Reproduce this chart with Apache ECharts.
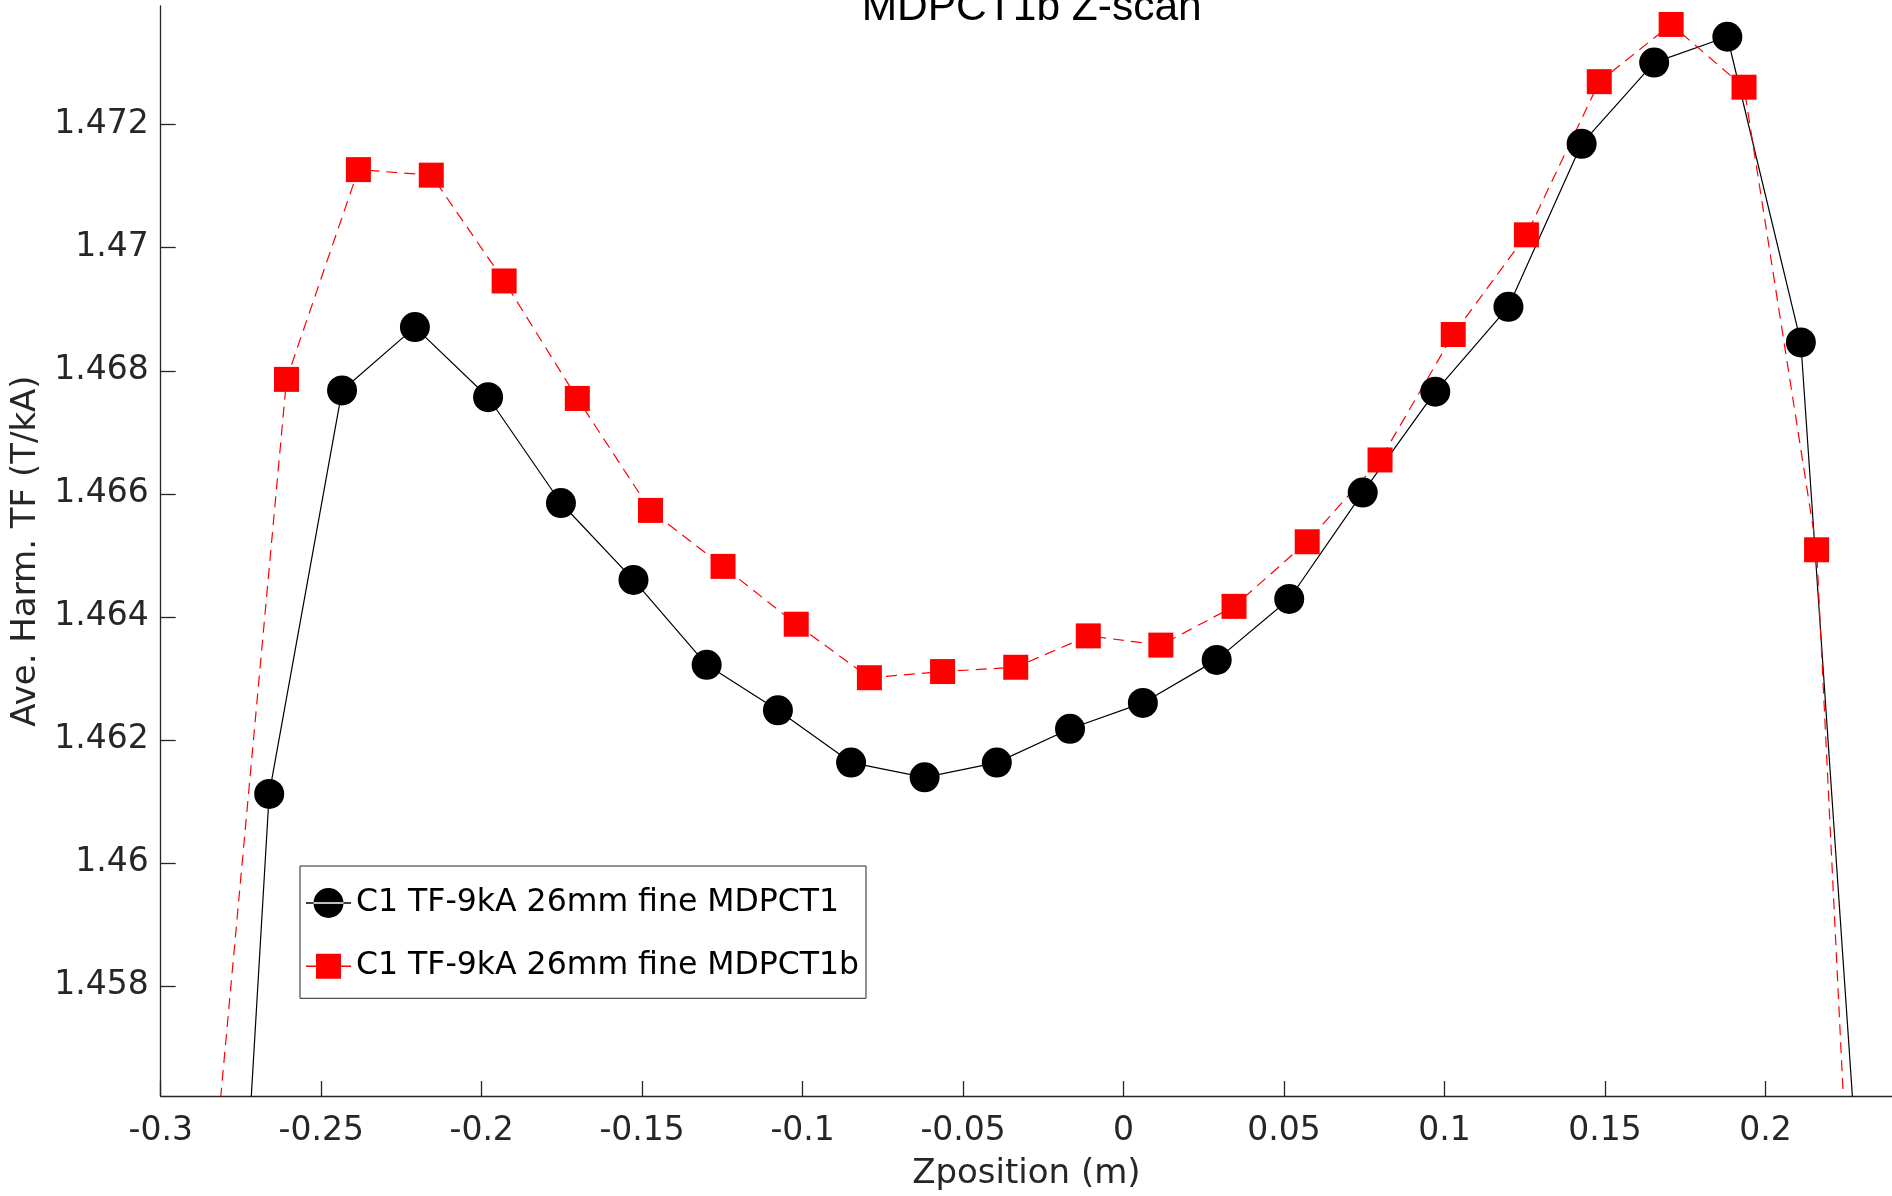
<!DOCTYPE html>
<html>
<head>
<meta charset="utf-8">
<title>MDPCT1b Z-scan</title>
<script src="https://cdn.jsdelivr.net/npm/echarts@6/dist/echarts.min.js"></script>
<style>
  html, body { margin: 0; padding: 0; background: #ffffff; }
  #chart { width: 1892px; height: 1196px; }
</style>
</head>
<body>
<div id="chart"></div>
<script>
// Z positions (m) and averaged harmonic transfer function (T/kA) for each scan
const nameMDPCT1 = 'C1 TF-9kA 26mm fine MDPCT1';
const zMDPCT1 = [-0.2888, -0.2662, -0.2435, -0.2208, -0.1980, -0.1753, -0.1527, -0.1299,
  -0.1077, -0.0849, -0.0620, -0.0395, -0.0167, 0.0060, 0.0290, 0.0516, 0.0745, 0.0971,
  0.1199, 0.1427, 0.1653, 0.1881, 0.2110, 0.2336];
const tfMDPCT1 = [1.4412, 1.46112, 1.46768, 1.46871, 1.46757, 1.46585, 1.46460, 1.46322,
  1.46248, 1.46163, 1.46139, 1.46163, 1.46218, 1.46260, 1.46330, 1.46429, 1.46602, 1.46766,
  1.46904, 1.47169, 1.47301, 1.47343, 1.46846, 1.45122];

const nameMDPCT1b = 'C1 TF-9kA 26mm fine MDPCT1b';
const zMDPCT1b = [-0.2834, -0.2608, -0.2384, -0.2157, -0.1930, -0.1702, -0.1474, -0.1248,
  -0.1020, -0.0792, -0.0564, -0.0336, -0.0110, 0.0116, 0.0344, 0.0572, 0.0799, 0.1027,
  0.1255, 0.1482, 0.1706, 0.1933, 0.2159, 0.2385];
const tfMDPCT1b = [1.4550, 1.46786, 1.47127, 1.47118, 1.46946, 1.46755, 1.46573, 1.46482,
  1.46388, 1.46301, 1.46311, 1.46318, 1.46369, 1.46354, 1.46417, 1.46522, 1.46655, 1.46859,
  1.47021, 1.47270, 1.47363, 1.47261, 1.46509, 1.44096];

// Axis limits and tick spacing
const xMin = -0.3, xMax = 0.2394, xStep = 0.05;
const yMin = 1.45621, yMax = 1.47393, yStep = 0.002;

const titleText = 'MDPCT1b Z-scan';
const xLabel = 'Zposition (m)';
const yLabel = 'Ave. Harm. TF (T/kA)';

const pairs = (xs, ys) => xs.map((x, i) => [x, ys[i]]);
const isOnStep = (v, step) => Math.abs(v / step - Math.round(v / step)) < 1e-6;
const fmt = v => String(parseFloat(v.toFixed(4)));

const axisGray = '#262626';
const font = 'DejaVu Sans';

const chart = echarts.init(document.getElementById('chart'), null, { renderer: 'canvas' });

chart.setOption({
  animation: false,
  backgroundColor: '#ffffff',
  grid: { left: 160.7, right: 0, top: 6, bottom: 98, containLabel: false },
  graphic: [{
    type: 'text',
    x: 1031.7,
    y: 8,
    silent: true,
    style: {
      text: titleText,
      fill: '#000000',
      font: '42.5px "Liberation Sans", Arial, sans-serif',
      align: 'center',
      verticalAlign: 'middle'
    }
  }],
  legend: {
    orient: 'vertical',
    left: 300,
    top: 866,
    padding: [21, 7, 16, 6],
    itemGap: 31.3,
    itemWidth: 45,
    itemHeight: 31,
    backgroundColor: '#ffffff',
    borderColor: axisGray,
    borderWidth: 1,
    borderRadius: 0,
    textStyle: { fontFamily: font, fontSize: 31.5, color: '#000000', lineHeight: 31 },
    data: [
      { name: nameMDPCT1, icon: 'path://M0,14.8h45v1.4h-45z M7.5,15.5a15,15 0 1 0 30,0a15,15 0 1 0 -30,0z' },
      { name: nameMDPCT1b, icon: 'path://M0,14.8h45v1.4h-45z M10,3h25v25h-25z' }
    ]
  },
  xAxis: {
    type: 'value',
    min: xMin,
    max: xMax,
    interval: xStep,
    name: xLabel,
    nameLocation: 'middle',
    nameGap: 61,
    nameTextStyle: { fontFamily: font, fontSize: 34, color: axisGray },
    splitLine: { show: false },
    axisLine: { show: true, onZero: false, lineStyle: { color: axisGray, width: 1.3 } },
    axisTick: { show: true, inside: true, length: 15, lineStyle: { color: axisGray, width: 1.3 } },
    axisLabel: {
      fontFamily: font, fontSize: 33, color: axisGray, margin: 18.5,
      showMinLabel: true, showMaxLabel: false,
      formatter: v => (isOnStep(v, xStep) ? fmt(v) : '')
    }
  },
  yAxis: {
    type: 'value',
    min: yMin,
    max: yMax,
    splitNumber: 9,
    name: yLabel,
    nameLocation: 'middle',
    nameGap: 115,
    nameTextStyle: { fontFamily: font, fontSize: 34, color: axisGray },
    splitLine: { show: false },
    axisLine: { show: true, onZero: false, lineStyle: { color: axisGray, width: 1.3 } },
    axisTick: { show: true, inside: true, length: 15, lineStyle: { color: axisGray, width: 1.3 } },
    axisLabel: {
      fontFamily: font, fontSize: 33, color: axisGray, margin: 12,
      showMinLabel: false, showMaxLabel: false,
      formatter: v => (isOnStep(v, yStep) ? fmt(v) : '')
    }
  },
  series: [
    {
      name: nameMDPCT1,
      type: 'line',
      data: pairs(zMDPCT1, tfMDPCT1),
      clip: true,
      symbol: 'circle',
      symbolSize: 30,
      showAllSymbol: true,
      color: '#000000',
      itemStyle: { color: '#000000', borderWidth: 0 },
      lineStyle: { color: '#000000', width: 1.2, type: 'solid' },
      emphasis: { disabled: true }
    },
    {
      name: nameMDPCT1b,
      type: 'line',
      data: pairs(zMDPCT1b, tfMDPCT1b),
      clip: true,
      symbol: 'rect',
      symbolSize: 25,
      showAllSymbol: true,
      color: '#ff0000',
      itemStyle: { color: '#ff0000', borderWidth: 0 },
      lineStyle: { color: '#ff0000', width: 1.2, type: [11, 7] },
      emphasis: { disabled: true }
    }
  ]
});
</script>
</body>
</html>
